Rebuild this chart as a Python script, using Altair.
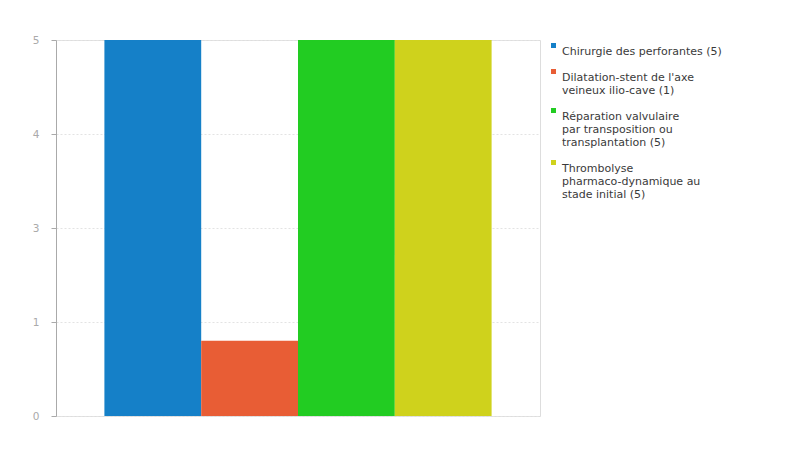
import altair as alt
import pandas as pd

categories = [
    "Chirurgie des perforantes (5)",
    "Dilatation-stent de l'axe|veineux ilio-cave (1)",
    "Réparation valvulaire|par transposition ou|transplantation (5)",
    "Thrombolyse|pharmaco-dynamique au|stade initial (5)",
]
values = [5, 1, 5, 5]
colors = ["#1580c8", "#e85d35", "#22cc22", "#cfd21c"]
y_ticks = [0, 1.25, 2.5, 3.75, 5]

df = pd.DataFrame({"cat": categories, "value": values})

chart = alt.Chart(df).mark_bar().encode(
    x=alt.X("cat:N", sort=categories, axis=None,
            scale=alt.Scale(paddingInner=0, paddingOuter=0.5)),
    y=alt.Y("value:Q", scale=alt.Scale(domain=[0, 5], nice=False),
            axis=alt.Axis(values=y_ticks, labelExpr="round(datum.value)", title=None,
                          grid=True, gridDash=[2, 2], gridColor="#e3e3e3",
                          domainColor="#aaaaaa", tickColor="#aaaaaa", tickSize=5,
                          labelColor="#aaaaaa", labelFont="DejaVu Sans", labelFontSize=10.5,
                          labelPadding=12)),
    color=alt.Color("cat:N", sort=categories,
                    scale=alt.Scale(domain=categories, range=colors),
                    legend=alt.Legend(title=None, orient="right", offset=8,
                                      labelExpr="split(datum.label, '|')",
                                      labelFont="DejaVu Sans", labelFontSize=11,
                                      labelColor="#3a3a3a", labelLimit=300,
                                      symbolType="square", symbolSize=25,
                                      symbolStrokeWidth=0, rowPadding=9,
                                      labelOffset=3, labelBaseline="top",
                                      padding=0)),
).properties(
    width=484, height=376,
    autosize=alt.AutoSizeParams(type="none"),
    padding={"left": 48, "top": 32, "right": 249, "bottom": 48},
).configure_view(
    fill="#f7f7f7", stroke="#dddddd"
).configure(background="white", style={"guide-label": {"lineHeight": 13}})

chart.save("out.html", embed_options={"renderer": "svg", "actions": False})
